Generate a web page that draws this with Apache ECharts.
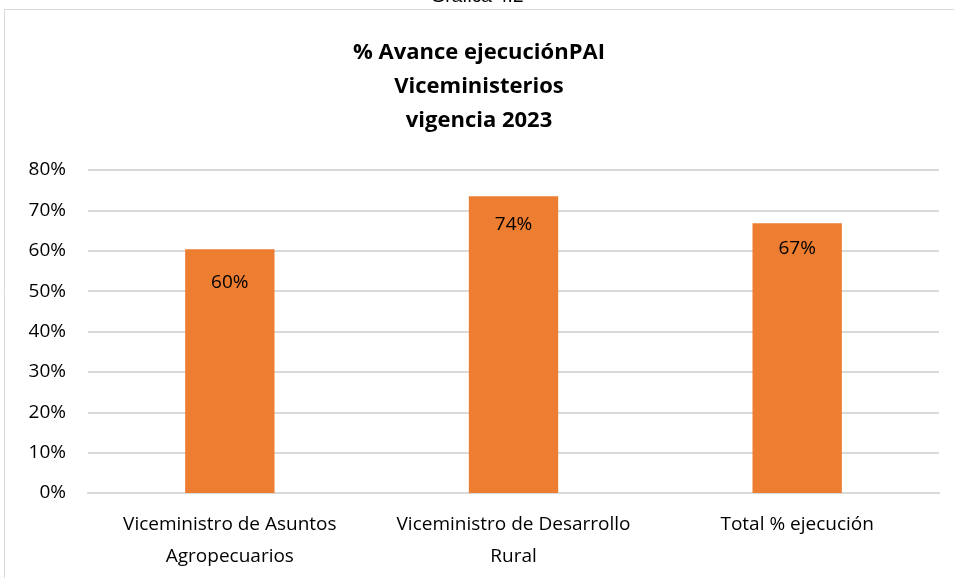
<!DOCTYPE html>
<html>
<head>
<meta charset="utf-8">
<script src="https://cdn.jsdelivr.net/npm/echarts@6/dist/echarts.min.js"></script>
<style>
  html, body { margin: 0; padding: 0; background: #fff; }
  #chart { width: 954px; height: 578px; }
</style>
</head>
<body>
<div id="chart"></div>
<script>
var categories = ['Viceministro de Asuntos\nAgropecuarios', 'Viceministro de Desarrollo\nRural', 'Total % ejecución'];
var avance = [0.604, 0.735, 0.668];
var labels = ['60%', '74%', '67%'];

var chart = echarts.init(document.getElementById('chart'));
var font = '"Open Sans", "Noto Sans", sans-serif';
// label offset inside each bar, as placed in the original
var labelGap = [24, 19, 16];

chart.setOption({
    animation: false,
    graphic: [
        {
            type: 'rect',
            shape: { x: 4.5, y: 9.5, width: 980, height: 620 },
            style: { fill: '#fff', stroke: '#d9d9d9', lineWidth: 1 },
            z: -1
        },
        {
            type: 'text',
            left: 'center',
            top: -13,
            style: { text: 'Gráfica 4.2', font: '19px "Liberation Sans", Arial', fill: '#000' }
        }
    ],
    title: {
        text: '% Avance ejecuciónPAI\nViceministerios\nvigencia 2023',
        left: 474,
        textAlign: 'center',
        top: 31,
        textStyle: {
            fontFamily: font,
            fontWeight: 'bold',
            fontSize: 22,
            lineHeight: 34,
            color: '#000'
        }
    },
    grid: { left: 88, right: 15, top: 170, bottom: 85, containLabel: false },
    xAxis: {
        type: 'category',
        data: categories,
        axisLine: { show: true, lineStyle: { color: '#d9d9d9', width: 2 } },
        axisTick: { show: false },
        axisLabel: {
            fontFamily: font,
            fontSize: 19,
            color: '#000',
            lineHeight: 32,
            margin: 16,
            interval: 0
        }
    },
    yAxis: {
        type: 'value',
        min: 0,
        max: 0.8,
        interval: 0.1,
        axisLine: { show: false },
        axisTick: { show: false },
        splitLine: { lineStyle: { color: '#d9d9d9', width: 2 } },
        axisLabel: {
            fontFamily: font,
            fontSize: 19,
            color: '#000',
            margin: 22,
            formatter: function (v) { return Math.round(v * 100) + '%'; }
        }
    },
    series: [{
        type: 'bar',
        data: avance.map(function (v, i) {
            return { value: v, label: { distance: labelGap[i] } };
        }),
        barWidth: '31.5%',
        itemStyle: { color: '#ED7D31' },
        label: {
            show: true,
            position: 'insideTop',
            fontFamily: font,
            fontSize: 19,
            color: '#000',
            formatter: function (p) { return labels[p.dataIndex]; }
        }
    }]
});
</script>
</body>
</html>
